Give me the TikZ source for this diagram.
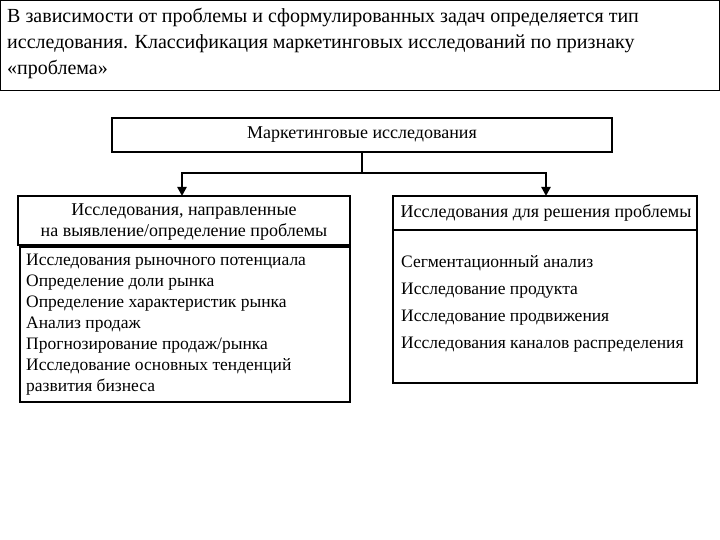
\documentclass[tikz,border=0pt]{standalone}
\usepackage{fontspec}
\setmainfont{Liberation Serif}
\usetikzlibrary{arrows.meta}
\begin{document}
\begin{tikzpicture}[x=1pt,y=-1pt,
  bx/.style={draw,line width=1.5pt},
  txt/.style={inner sep=0pt,font=\fontsize{18}{21}\selectfont},
  conn/.style={line width=2.6pt,-{Triangle[length=9pt,width=9pt]}}]
\useasboundingbox (0,0) rectangle (720,540);
\fill[white] (0,0) rectangle (720,540);
\draw[line width=0.8pt] (0.5,0.5) rectangle (719.5,90);
\node[anchor=north west,inner sep=0pt,align=left,font=\fontsize{20}{26}\selectfont] (title) at (7,8)
 {В зависимости от проблемы и сформулированных задач определяется тип\\исследования. Классификация маркетинговых исследований по признаку\\«проблема»};
\draw[bx] (112,118) rectangle (612,152);
\node[txt] (top) at (362,135) {Маркетинговые исследования};
\draw[bx] (18,196) rectangle (350,245);
\node[txt,align=center] (lh) at (184,222) {Исследования, направленные\\на выявление/определение проблемы};
\draw[bx] (20,247) rectangle (350,402);
\node[txt,anchor=north west,align=left,font=\fontsize{17.5}{21}\selectfont] (ll) at (26,254)
 {Исследования рыночного потенциала\\Определение доли рынка\\Определение характеристик рынка\\Анализ продаж\\Прогнозирование продаж/рынка\\Исследование основных тенденций\\развития бизнеса};
\draw[bx] (393,196) rectangle (697,383);
\draw[bx] (393,230) -- (697,230);
\node[txt] (rh) at (546,213) {Исследования для решения проблемы};
\node[txt,anchor=north west,align=left,font=\fontsize{17.5}{27.2}\selectfont] (rl) at (401,255)
 {Сегментационный анализ\\Исследование продукта\\Исследование продвижения\\Исследования каналов распределения};
\coordinate (j) at (362,173);
\draw[line width=2.6pt] (top.south |- 0,152) -- (j);
\draw[conn] (j) -| (182,196);
\draw[conn] (j) -| (546,196);
\end{tikzpicture}
\end{document}
